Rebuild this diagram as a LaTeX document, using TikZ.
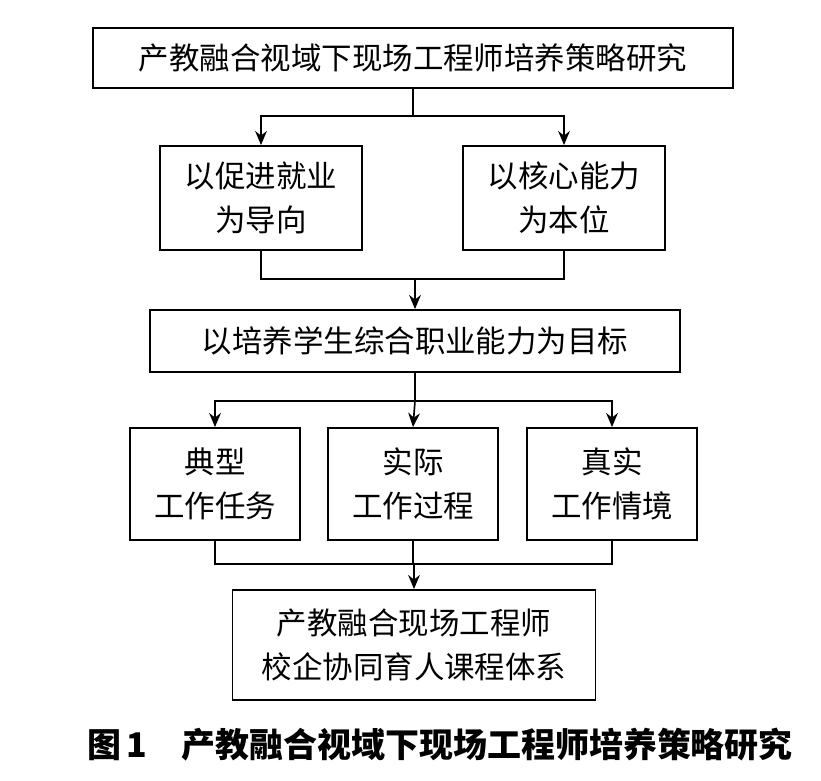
\documentclass[tikz,border=0pt]{standalone}
\usepackage{fontspec}
\setmainfont{Noto Sans CJK SC}
\usetikzlibrary{arrows.meta, positioning, calc}
\tikzset{
  box/.style={draw, rectangle, line width=1.6pt, align=center, font=\fontsize{26}{38}\selectfont, inner sep=0pt},
  link/.style={line width=1.4pt},
  arr/.style={line width=1.4pt, -{Stealth[length=12pt,width=10pt]}}
}
\begin{document}
\begin{tikzpicture}[x=0.03cm, y=-0.03cm]
\useasboundingbox (0,0) rectangle (821,780);
% Title box
\node[box, minimum width=640*0.03cm, minimum height=60*0.03cm] (top) at (413,58) {产教融合视域下现场工程师培养策略研究};

% Two orientations
\node[box, minimum width=202*0.03cm, minimum height=104*0.03cm] (job) at (261,198) {以促进就业\\为导向};
\node[box, minimum width=202*0.03cm, minimum height=104*0.03cm] (core) at (564,198) {以核心能力\\为本位};

% Goal
\node[box, minimum width=530*0.03cm, minimum height=62*0.03cm] (goal) at (415,341) {以培养学生综合职业能力为目标};

% Three work aspects
\node[box, minimum width=170*0.03cm, minimum height=112*0.03cm] (task) at (215,484) {典型\\工作任务};
\node[box, minimum width=170*0.03cm, minimum height=112*0.03cm] (proc) at (413,484) {实际\\工作过程};
\node[box, minimum width=170*0.03cm, minimum height=112*0.03cm] (scene) at (612,484) {真实\\工作情境};

% Course system
\node[box, minimum width=363*0.03cm, minimum height=110*0.03cm] (course) at (414,645) {产教融合现场工程师\\校企协同育人课程体系};

% Caption
\node[font=\fontsize{29}{34}\selectfont\bfseries] (cap) at (440,745) {图\,1\quad 产教融合视域下现场工程师培养策略研究};

% Connectors
\coordinate (s1) at ($(top.south)+(0,27)$);
\draw[link] (top.south) -- (s1);
\draw[arr] (s1) -| (job.north);
\draw[arr] (s1) -| (core.north);

\coordinate (s2) at ($(goal.north)+(0,-30)$);
\draw[link] (job.south) |- (s2) -| (core.south);
\draw[arr] (s2) -- (goal.north);

\coordinate (s3) at ($(goal.south)+(0,28)$);
\draw[link] (goal.south) -- (s3);
\draw[arr] (s3) -| (task.north);
\draw[arr] (s3) -- (proc.north);
\draw[arr] (s3) -| (scene.north);

\coordinate (s4) at ($(course.north)+(0,-25)$);
\draw[link] (task.south) |- (s4) -| (scene.south);
\draw[link] (proc.south) -- (proc.south |- s4);
\draw[arr] (s4) -- (course.north);
\end{tikzpicture}
\end{document}
